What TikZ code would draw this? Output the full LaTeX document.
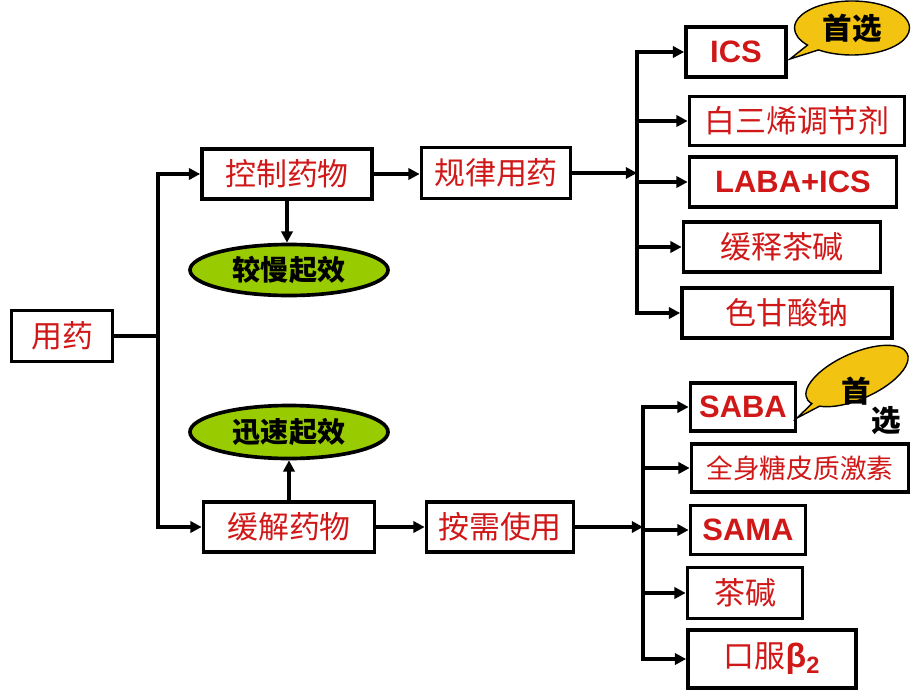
\documentclass[tikz,border=0pt]{standalone}
\usepackage{fontspec}
\setmainfont{Liberation Sans}
\newfontfamily\cjk{Noto Sans CJK SC}
\usetikzlibrary{arrows.meta,shapes.geometric,shapes.callouts}
\definecolor{txtred}{HTML}{D01818}
\definecolor{leafgreen}{HTML}{99CC00}
\definecolor{tipgold}{HTML}{F2C311}

\begin{document}
\begin{tikzpicture}[x=0.025cm,y=-0.025cm,>={Triangle[length=8pt,width=8pt]},
                    line width=2.6pt]
  \tikzstyle{box}=[draw,rectangle,inner sep=0pt,text=txtred,
                   font=\fontsize{22}{24}\selectfont\cjk]
  \tikzstyle{latin}=[font=\fontsize{22}{24}\selectfont\bfseries]
  \tikzstyle{effect}=[draw,ellipse,fill=leafgreen,inner sep=0pt,
                      minimum width=4.95cm,font=\fontsize{20}{22}\selectfont\cjk\bfseries]
  \tikzstyle{tip}=[draw,ellipse callout,fill=tipgold,line width=1pt,inner sep=0pt,
                   font=\fontsize{21}{23}\selectfont\cjk\bfseries]
  \useasboundingbox (0,0) rectangle (920,690);

  % left part
  \node[box,minimum width=2.525cm,minimum height=1.275cm] (yy)   at (62,336)  {用药};
  \node[box,minimum width=4.25cm,minimum height=1.25cm]   (kz)   at (287,174) {控制药物};
  \node[box,minimum width=4.275cm,minimum height=1.25cm]  (hj)   at (289,527) {缓解药物};
  \node[effect,minimum height=1.275cm] (slow) at (289,270) {较慢起效};
  \node[effect,minimum height=1.325cm] (fast) at (289,432) {迅速起效};
  \node[box,minimum width=3.725cm,minimum height=1.275cm] (gl)   at (496,173) {规律用药};
  \node[box,minimum width=3.675cm,minimum height=1.25cm]  (ax)   at (500,527) {按需使用};

  % regular use
  \node[box,latin,minimum width=2.5cm,minimum height=1.25cm]    (ics)  at (736,52)  {ICS};
  \node[box,minimum width=5.375cm,minimum height=1.225cm]       (bsx)  at (797,121) {白三烯调节剂};
  \node[box,latin,minimum width=5.175cm,minimum height=1.25cm]  (laba) at (793,182) {LABA+ICS};
  \node[box,minimum width=4.925cm,minimum height=1.25cm]        (hscj) at (782,247) {缓释茶碱};
  \node[box,minimum width=5.25cm,minimum height=1.25cm]         (sgs)  at (787,313) {色甘酸钠};

  % on demand
  \node[box,latin,minimum width=2.625cm,minimum height=1.2cm]   (saba) at (743,407) {SABA};
  \node[box,minimum width=5.425cm,minimum height=1.2cm,
        font=\fontsize{19}{21}\selectfont\cjk]                  (qs)   at (800,468) {全身糖皮质激素};
  \node[box,latin,minimum width=2.875cm,minimum height=1.225cm] (sama) at (748,530) {SAMA};
  \node[box,minimum width=2.875cm,minimum height=1.275cm]       (cj)   at (745,593) {茶碱};
  \node[box,minimum width=4.2cm,minimum height=1.45cm]          (kf)   at (772,659)
       {口服{\fontspec{Liberation Sans}\bfseries\fontsize{24}{26}\selectfont β\textsubscript{2}}};

  % callouts
  \coordinate (tip1) at (790,59);
  \coordinate (tip2) at (797,418);
  \node[tip,minimum width=2.875cm,minimum height=1.35cm,callout absolute pointer=(tip1)]
       (first1) at (852,28) {首选};
  \node[tip,minimum width=2.75cm,minimum height=1.15cm,rotate=24,callout absolute pointer=(tip2)]
       (first2) at (857,376) {};
  \node[font=\fontsize{21}{23}\selectfont\cjk\bfseries] (shou) at (856,391) {首};
  \node[font=\fontsize{21}{23}\selectfont\cjk\bfseries] (xuan) at (886,421) {选};

  % connectors
  \draw (yy.east) -- (158,336) coordinate (tr);
  \draw[->] (tr) |- (kz.west);
  \draw[->] (tr) |- (hj.west);
  \draw[->] (kz.east) -- (kz.east -| gl.west);
  \draw[->] (hj.east) -- (hj.east -| ax.west);
  \draw[->] (kz.south) -- (kz.south |- slow.north);
  \draw[->] (hj.north) -- (hj.north |- fast.south);

  \draw[->] (gl.east) -- (637,173) coordinate (tr1);
  \foreach \n in {ics,bsx,laba,hscj,sgs}
    \draw[->] (tr1) |- (\n.west);
  \draw[->] (ax.east) -- (643,527) coordinate (tr2);
  \foreach \n in {saba,qs,sama,cj,kf}
    \draw[->] (tr2) |- (\n.west);
\end{tikzpicture}
\end{document}
